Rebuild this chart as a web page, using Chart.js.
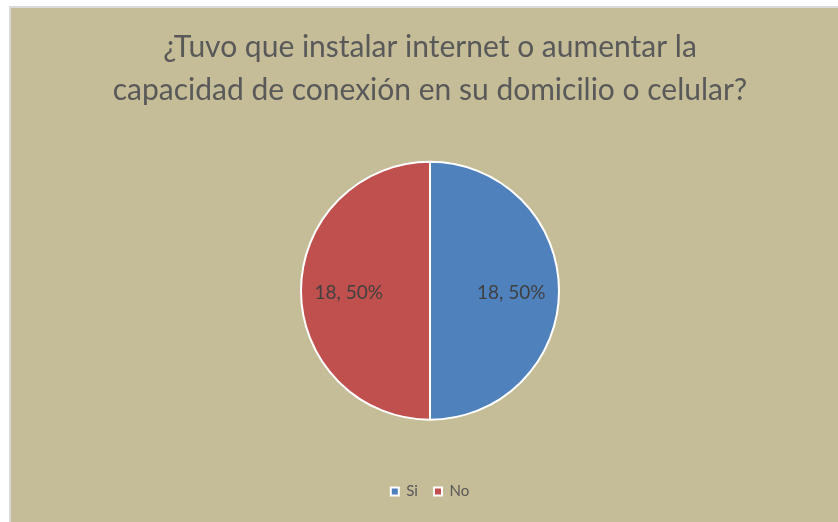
<!DOCTYPE html>
<html>
<head>
<meta charset="utf-8">
<script src="https://cdn.jsdelivr.net/npm/chart.js@4"></script>
<style>
  html, body { margin: 0; padding: 0; background: #ffffff; }
  #marco {
    position: absolute; left: 9px; top: 6px; right: 0; bottom: 0;
    background: #c4bd97;
    border-left: 2px solid #d9d9d9; border-top: 2px solid #d9d9d9;
  }
  #lienzo { position: absolute; left: 0; top: 0; }
</style>
</head>
<body>
<div id="marco"></div>
<canvas id="lienzo" width="838" height="522"></canvas>
<script>
// Pregunta de encuesta: instalación / aumento de conexión
const TITULO = ['¿Tuvo que instalar internet o aumentar la', 'capacidad de conexión en su domicilio o celular?'];
const RESPUESTAS = ['Si', 'No'];
const CANTIDADES = [18, 18];
const COLORES = ['#4f81bd', '#c0504d'];

const FUENTE = "Lato, 'Open Sans', sans-serif";

// etiquetas "valor, porcentaje" dentro de cada porción
const etiquetasPorcion = {
  id: 'etiquetasPorcion',
  afterDatasetsDraw(chart) {
    const { ctx } = chart;
    const meta = chart.getDatasetMeta(0);
    const total = CANTIDADES.reduce((a, b) => a + b, 0);
    ctx.save();
    ctx.font = `19px ${FUENTE}`;
    ctx.fillStyle = '#404040';
    ctx.textAlign = 'center';
    ctx.textBaseline = 'middle';
    meta.data.forEach((arc, i) => {
      const ang = (arc.startAngle + arc.endAngle) / 2;
      const r = arc.outerRadius * 0.63;
      const pct = Math.round(CANTIDADES[i] / total * 100);
      ctx.fillText(`${CANTIDADES[i]}, ${pct}%`, arc.x + Math.cos(ang) * r, arc.y + Math.sin(ang) * r + 2);
    });
    ctx.restore();
  },
};

new Chart(document.getElementById('lienzo'), {
  type: 'pie',
  data: {
    labels: RESPUESTAS,
    datasets: [{
      data: CANTIDADES,
      backgroundColor: COLORES,
      borderColor: '#ffffff',
      borderWidth: 2,
      radius: 129,
      hoverOffset: 0,
    }],
  },
  options: {
    responsive: false,
    animation: false,
    events: [],
    layout: { padding: { left: 22, right: 0, top: 0, bottom: 13 } },
    plugins: {
      title: {
        display: true,
        text: TITULO,
        color: '#595959',
        font: { family: FUENTE, size: 30, weight: 'normal', lineHeight: 43 / 30 },
        padding: { top: 25.5, bottom: 2 },
      },
      legend: {
        position: 'bottom',
        labels: {
          color: '#595959',
          font: { family: FUENTE, size: 15 },
          boxWidth: 8, boxHeight: 8,
          padding: 16,
        },
      },
      tooltip: { enabled: false },
    },
  },
  plugins: [etiquetasPorcion],
});
</script>
</body>
</html>
